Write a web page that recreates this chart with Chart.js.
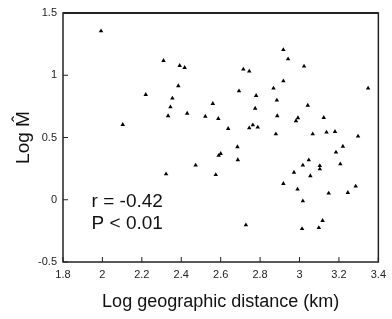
<!DOCTYPE html>
<html><head><meta charset="utf-8">
<script src="https://cdn.jsdelivr.net/npm/chart.js@4/dist/chart.umd.min.js"></script>
<style>html,body{margin:0;padding:0;background:#fff}#wrap{width:392px;height:319px}</style>
</head><body><div id="wrap"><canvas id="c"></canvas></div>
<script>
const xValues = [1.993,2.103,2.22,2.31,2.392,2.417,2.385,2.355,2.345,2.333,2.43,2.918,2.942,3.023,2.715,2.745,2.918,2.868,2.693,2.78,2.885,2.56,3.348,3.042,2.775,2.522,2.588,2.887,2.992,2.982,3.123,2.638,2.745,2.763,2.788,2.88,3.067,3.137,3.18,3.297,3.22,2.685,3.185,2.59,2.60,2.687,3.047,2.473,2.575,2.728,2.918,2.972,3.017,3.103,3.103,3.055,3.207,2.99,3.017,3.148,3.245,3.285,3.117,3.013,3.098,2.323];
const yValues = [1.355,0.603,0.844,1.117,1.077,1.061,0.914,0.815,0.745,0.673,0.694,1.205,1.13,1.072,1.048,1.032,0.954,0.895,0.873,0.836,0.799,0.772,0.895,0.758,0.734,0.67,0.651,0.673,0.657,0.633,0.659,0.571,0.576,0.6,0.582,0.528,0.528,0.542,0.547,0.51,0.429,0.424,0.381,0.355,0.37,0.32,0.319,0.277,0.201,-0.203,0.129,0.22,0.277,0.273,0.247,0.191,0.287,0.084,-0.01,0.052,0.057,0.108,-0.168,-0.233,-0.225,0.207];
const xTicks = [1.8,2,2.2,2.4,2.6,2.8,3,3.2,3.4];
const yTicks = [-0.5,0,0.5,1,1.5];
const statLines = ["r = -0.42","P < 0.01"];
const xTitle = "Log geographic distance (km)";
const yTitle = "Log M\u0302";

const points = xValues.map((x,i)=>({x:x,y:yValues[i]}));
const FONT = "'Liberation Sans', Arial, sans-serif";

const framePlugin = {
  id:'frame',
  afterDraw(chart){
    const {ctx, chartArea:a, scales} = chart;
    ctx.save();
    ctx.strokeStyle = '#222';
    ctx.lineWidth = 1.5;
    ctx.strokeRect(a.left, a.top, a.right-a.left, a.bottom-a.top);
    ctx.lineWidth = 2;
    ctx.beginPath();
    ctx.moveTo(a.left, a.top); ctx.lineTo(a.right, a.top);
    ctx.stroke();
    ctx.lineWidth = 1;
    ctx.beginPath();
    xTicks.forEach(v=>{const p=scales.x.getPixelForValue(v); ctx.moveTo(p,a.bottom); ctx.lineTo(p,a.bottom-5);});
    yTicks.forEach(v=>{const p=scales.y.getPixelForValue(v); ctx.moveTo(a.left,p); ctx.lineTo(a.left+5,p);});
    ctx.stroke();
    ctx.fillStyle = '#111';
    ctx.font = "19px " + FONT;
    ctx.textBaseline = 'middle';
    ctx.fillText(statLines[0], scales.x.getPixelForValue(1.945), scales.y.getPixelForValue(-0.018));
    ctx.fillText(statLines[1], scales.x.getPixelForValue(1.945), scales.y.getPixelForValue(-0.19));
    ctx.restore();
  }
};

new Chart(document.getElementById('c'), {
  type:'scatter',
  data:{datasets:[{data:points, pointStyle:'triangle', radius:2.6, backgroundColor:'#000', borderColor:'#000', borderWidth:0}]},
  options:{
    responsive:true, maintainAspectRatio:false, animation:false,
    layout:{padding:{top:13,right:7,left:0,bottom:0}},
    plugins:{legend:{display:false}, tooltip:{enabled:false}},
    scales:{
      x:{type:'linear', min:1.8, max:3.4,
        afterBuildTicks(s){ s.ticks = xTicks.map(v=>({value:v})); },
        afterFit(s){ s.height = 57; },
        grid:{display:false, drawTicks:false},
        border:{display:false},
        ticks:{padding:6, color:'#222', font:{family:FONT, size:11}, callback:v=>String(v), maxRotation:0},
        title:{display:true, text:xTitle, color:'#111', font:{family:FONT, size:18}, padding:{top:10, bottom:6}}
      },
      y:{type:'linear', min:-0.5, max:1.5,
        afterBuildTicks(s){ s.ticks = yTicks.map(v=>({value:v})); },
        afterFit(s){ s.width = 63; },
        grid:{display:false, drawTicks:false},
        border:{display:false},
        ticks:{padding:6, color:'#222', font:{family:FONT, size:11}, callback:v=>String(v)},
        title:{display:true, text:yTitle, color:'#111', font:{family:FONT, size:19}, padding:{bottom:0, top:12}}
      }
    }
  },
  plugins:[framePlugin]
});
</script>
</body></html>
